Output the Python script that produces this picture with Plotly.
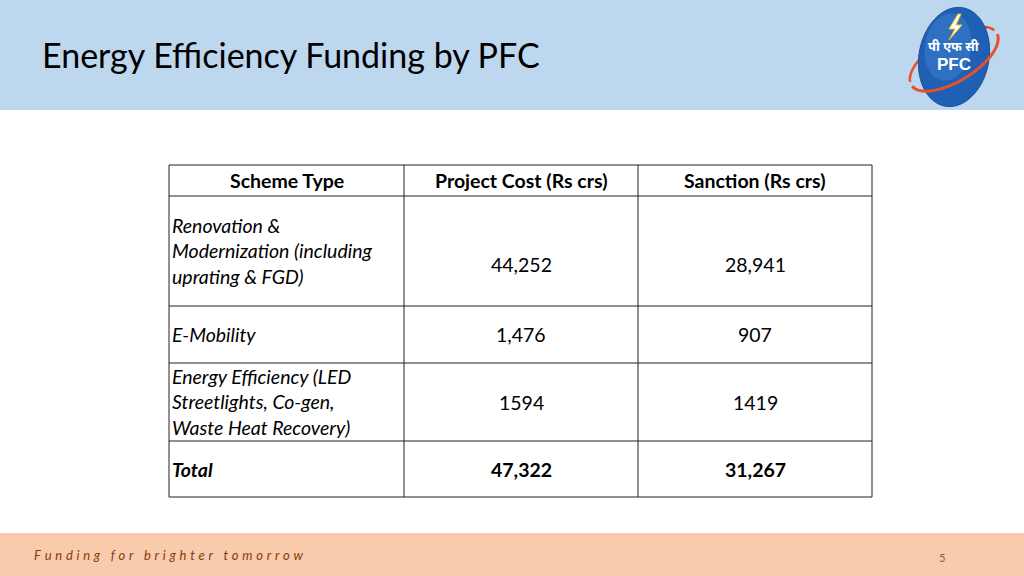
import numpy as np
import plotly.graph_objects as go

# ---------------- data ----------------
header = ["Scheme Type", "Project Cost (Rs crs)", "Sanction (Rs crs)"]
schemes = [
    "Renovation &<br>Modernization (including<br>uprating & FGD)",
    "E-Mobility",
    "Energy Efficiency (LED<br>Streetlights, Co-gen,<br>Waste Heat Recovery)",
    "Total",
]
project_cost = ["44,252", "1,476", "1594", "47,322"]
sanction = ["28,941", "907", "1419", "31,267"]
title_text = "Energy Efficiency Funding by PFC"
footer_text = "Funding for brighter tomorrow"
page_no = "5"

# ---------------- layout constants ----------------
W, H = 1024, 576
FONT = "Lato, 'Open Sans', sans-serif"
TS = 19.5
col_x = [169, 404, 638, 872]
row_y = [165, 196, 306, 363, 441, 497]
num_dy = [13, 0, 0, 0]   # vertical nudge of the numbers in each body row

fig = go.Figure()
shapes = []
ann = []

# header band / footer band
shapes.append(dict(type="rect", x0=0, x1=W, y0=0, y1=110, fillcolor="#BDD7EE", line_width=0, layer="below"))
shapes.append(dict(type="rect", x0=0, x1=W, y0=533, y1=H, fillcolor="#F8CBAD", line_width=0, layer="below"))

# table grid
for x in col_x:
    shapes.append(dict(type="line", x0=x, x1=x, y0=row_y[0], y1=row_y[-1], line=dict(color="#222222", width=1)))
for y in row_y:
    shapes.append(dict(type="line", x0=col_x[0], x1=col_x[-1], y0=y, y1=y, line=dict(color="#222222", width=1)))

# header texts
for i, h in enumerate(header):
    ann.append(dict(x=(col_x[i] + col_x[i + 1]) / 2, y=(row_y[0] + row_y[1]) / 2, text="<b>" + h + "</b>",
                    showarrow=False, xanchor="center", yanchor="middle",
                    font=dict(family=FONT, size=TS, color="#000000")))

# body rows
for r in range(len(schemes)):
    yc = (row_y[r + 1] + row_y[r + 2]) / 2
    bold = r == len(schemes) - 1
    s = schemes[r]
    ann.append(dict(x=col_x[0] + 1, y=yc, text=("<b><i>%s</i></b>" if bold else "<i>%s</i>") % s,
                    showarrow=False, xanchor="left", yanchor="middle", align="left",
                    font=dict(family=FONT, size=TS, color="#000000")))
    for ci, vals in ((1, project_cost), (2, sanction)):
        t = vals[r]
        ann.append(dict(x=(col_x[ci] + col_x[ci + 1]) / 2, y=yc + num_dy[r], text=("<b>%s</b>" if bold else "%s") % t,
                        showarrow=False, xanchor="center", yanchor="middle",
                        font=dict(family=FONT, size=TS, color="#000000")))

# title
ann.append(dict(x=40, y=54, text=title_text, showarrow=False, xanchor="left", yanchor="middle",
                font=dict(family=FONT, size=34, color="#000000")))

# footer
spaced = "\u2009\u2009\u200a".join(list(footer_text))
ann.append(dict(x=32, y=555, text="<i>" + spaced + "</i>", showarrow=False, xanchor="left", yanchor="middle",
                font=dict(family=FONT, size=13, color="#843C0C")))
ann.append(dict(x=942, y=557, text=page_no, showarrow=False, xanchor="center", yanchor="middle",
                font=dict(family=FONT, size=11, color="#7F6050")))

# ---------------- logo (decorative) ----------------
cx, cy = 954, 57
def ellipse_path(cx, cy, a, b, ang, t0=0, t1=2 * np.pi, n=80, close=True):
    t = np.linspace(t0, t1, n)
    ca, sa = np.cos(ang), np.sin(ang)
    xs = cx + a * np.cos(t) * ca - b * np.sin(t) * sa
    ys = cy + a * np.cos(t) * sa + b * np.sin(t) * ca
    p = "M %.2f %.2f " % (xs[0], ys[0]) + " ".join("L %.2f %.2f" % (x, y) for x, y in zip(xs[1:], ys[1:]))
    return p + (" Z" if close else "")

shapes.append(dict(type="path", path=ellipse_path(cx, cy + 2, 50, 22, -0.55, np.pi * 1.05, np.pi * 1.95, close=False),
                   line=dict(color="#E8502A", width=2.5)))
shapes.append(dict(type="path", path=ellipse_path(cx, cy, 35, 50, 0.18), fillcolor="#1F5FB4",
                   line=dict(color="#1A4E9A", width=1)))
shapes.append(dict(type="path", path=ellipse_path(cx - 6, cy - 10, 23, 34, 0.18), fillcolor="#3C7CCB",
                   line_width=0, opacity=0.6))
shapes.append(dict(type="path", path=ellipse_path(cx, cy + 2, 50, 22, -0.55, np.pi * 0.02, np.pi * 0.98, close=False),
                   line=dict(color="#E8502A", width=3)))
shapes.append(dict(type="path", path="M 958 14 L 949 29 L 955 29 L 949 40 L 962 25 L 956 25 L 961 14 Z",
                   fillcolor="#FFFFFF", line=dict(color="#F2C200", width=1)))
ann.append(dict(x=954, y=47, text="<b>पी एफ सी</b>", showarrow=False, xanchor="center", yanchor="middle",
                font=dict(family="'Noto Sans Devanagari', 'Noto Sans', sans-serif", size=13, color="#FFFFFF")))
ann.append(dict(x=954, y=64, text="<b>PFC</b>", showarrow=False, xanchor="center", yanchor="middle",
                font=dict(family="Arial, 'Liberation Sans', sans-serif", size=17, color="#FFFFFF")))

fig.update_layout(
    width=W, height=H, margin=dict(l=0, r=0, t=0, b=0),
    paper_bgcolor="#FFFFFF", plot_bgcolor="#FFFFFF",
    xaxis=dict(range=[0, W], visible=False, fixedrange=True),
    yaxis=dict(range=[H, 0], visible=False, fixedrange=True),
    shapes=shapes, annotations=ann, showlegend=False,
)
fig.write_html("out.html", config=dict(displayModeBar=False),
               post_script="document.body.style.margin='0';document.body.style.overflow='hidden';")
